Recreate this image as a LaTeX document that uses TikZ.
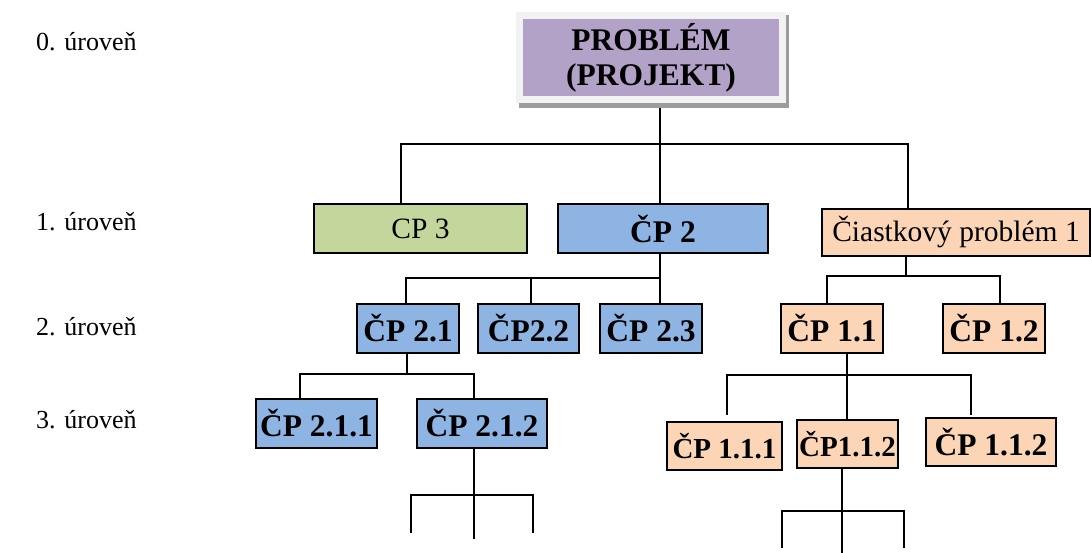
\documentclass[tikz,border=0pt]{standalone}
\usepackage{fontspec}
\setmainfont{Liberation Serif}
\usetikzlibrary{backgrounds}
\definecolor{rootfill}{HTML}{B3A2C7}
\definecolor{rootframe}{HTML}{F2F2F2}
\definecolor{rootshade}{HTML}{9C9C9C}
\definecolor{greenfill}{HTML}{C3D69B}
\definecolor{bluefill}{HTML}{8EB4E3}
\definecolor{peachfill}{HTML}{FBD5B5}
\tikzset{
  box/.style={draw=black, line width=1.4pt, inner sep=0pt, anchor=center},
  lbl/.style={font=\fontsize{26}{30}\selectfont, anchor=base west, inner sep=0pt},
  boldtxt/.style={font=\fontsize{31.5}{35}\selectfont\bfseries},
  smallbold/.style={font=\fontsize{29}{35}\selectfont\bfseries},
  plaintxt/.style={font=\fontsize{29.5}{32}\selectfont},
  wire/.style={line width=1.6pt, line cap=rect}
}
\begin{document}
\begin{tikzpicture}[x=1pt,y=-1pt]
\useasboundingbox (0,0) rectangle (1091,552);

% level captions
\node[lbl] (l0) at (36,50)  {0. úroveň};
\node[lbl] (l1) at (36,230) {1. úroveň};
\node[lbl] (l2) at (36,335) {2. úroveň};
\node[lbl] (l3) at (36,428) {3. úroveň};

% root
\node[box, draw=rootframe, line width=7pt, fill=rootfill, minimum width=263pt,
      minimum height=84pt, align=center, boldtxt] (root) at (651,57.5)
      {PROBLÉM\\(PROJEKT)};

% level 1
\node[box, fill=greenfill, minimum width=213pt, minimum height=49pt, plaintxt] (cp3) at (420.5,228.5) {CP 3};
\node[box, fill=bluefill, minimum width=210pt, minimum height=49pt, boldtxt] (cp2) at (663,228.5) {ČP 2};
\node[box, fill=peachfill, minimum width=268pt, minimum height=47pt, plaintxt] (cp1) at (956,232.5) {Čiastkový problém 1};

% level 2
\node[box, fill=bluefill, minimum width=102pt, minimum height=49pt, boldtxt] (cp21) at (408,328.5) {ČP 2.1};
\node[box, fill=bluefill, minimum width=101pt, minimum height=49pt, boldtxt] (cp22) at (528.5,328.5) {ČP2.2};
\node[box, fill=bluefill, minimum width=102pt, minimum height=49pt, boldtxt] (cp23) at (651,328.5) {ČP 2.3};
\node[box, fill=peachfill, minimum width=102pt, minimum height=49pt, boldtxt] (cp11) at (832,328.5) {ČP 1.1};
\node[box, fill=peachfill, minimum width=102pt, minimum height=49pt, boldtxt] (cp12) at (994,328.5) {ČP 1.2};

% level 3
\node[box, fill=bluefill, minimum width=121pt, minimum height=49pt, boldtxt] (cp211) at (316.5,423.5) {ČP 2.1.1};
\node[box, fill=bluefill, minimum width=130pt, minimum height=49pt, boldtxt] (cp212) at (482,423.5) {ČP 2.1.2};
\node[box, fill=peachfill, minimum width=115pt, minimum height=48pt, smallbold] (cp111) at (724.5,446) {ČP 1.1.1};
\node[box, fill=peachfill, minimum width=101pt, minimum height=48pt, smallbold] (cp112) at (847.5,444) {ČP1.1.2};
\node[box, fill=peachfill, minimum width=130pt, minimum height=48pt, boldtxt] (cp113) at (991,442) {ČP 1.1.2};

% bus junctions
\coordinate (j0l) at (401,144);
\coordinate (j0m) at (660,144);
\coordinate (j0r) at (908,144);
\coordinate (b2l) at (406,278);
\coordinate (b2c) at (531,278);
\coordinate (b2m) at (660,278);
\coordinate (b1l) at (827,276);
\coordinate (b1m) at (906,276);
\coordinate (b1r) at (1000,276);
\coordinate (b21l) at (300,374);
\coordinate (b21m) at (407,374);
\coordinate (b21r) at (474,374);
\coordinate (b212l) at (411,495);
\coordinate (b212m) at (474,495);
\coordinate (b212r) at (533,495);
\coordinate (e212l) at (411,532);
\coordinate (e212m) at (474,538);
\coordinate (e212r) at (533,532);
\coordinate (b11l) at (727,375);
\coordinate (b11m) at (847,375);
\coordinate (b11r) at (971,375);
\coordinate (e11l) at (727,414);
\coordinate (e11r) at (971,414);
\coordinate (b112l) at (782,511);
\coordinate (b112m) at (842,511);
\coordinate (b112r) at (904,511);
\coordinate (e112l) at (782,547);
\coordinate (e112m) at (842,552);
\coordinate (e112r) at (904,547);

\begin{pgfonlayer}{background}
  \fill[white] (0,0) rectangle (1091,552);
  % level 0 -> 1
  \draw[wire] (j0l) -- (j0r);
  \draw[wire] (root.south -| j0m) -- (cp2.north -| j0m);
  \draw[wire] (j0l) -- (cp3.north -| j0l);
  \draw[wire] (j0r) -- (cp1.north -| j0r);
  % CP 2 -> level 2
  \draw[wire] (cp2.south -| b2m) -- (b2m);
  \draw[wire] (b2l) -- (b2m);
  \draw[wire] (b2l) -- (cp21.north -| b2l);
  \draw[wire] (b2c) -- (cp22.north -| b2c);
  \draw[wire] (b2m) -- (cp23.north -| b2m);
  % CP 1 -> level 2
  \draw[wire] (cp1.south -| b1m) -- (b1m);
  \draw[wire] (b1l) -- (b1r);
  \draw[wire] (b1l) -- (cp11.north -| b1l);
  \draw[wire] (b1r) -- (cp12.north -| b1r);
  % CP 2.1 -> level 3
  \draw[wire] (cp21.south -| b21m) -- (b21m);
  \draw[wire] (b21l) -- (b21r);
  \draw[wire] (b21l) -- (cp211.north -| b21l);
  \draw[wire] (b21r) -- (cp212.north -| b21r);
  % below CP 2.1.2
  \draw[wire] (cp212.south -| b212m) -- (e212m);
  \draw[wire] (b212l) -- (b212r);
  \draw[wire] (b212l) -- (e212l);
  \draw[wire] (b212r) -- (e212r);
  % CP 1.1 -> level 3
  \draw[wire] (cp11.south -| b11m) -- (cp112.north -| b11m);
  \draw[wire] (b11l) -- (b11r);
  \draw[wire] (b11l) -- (e11l);
  \draw[wire] (b11r) -- (e11r);
  % below CP 1.1.2
  \draw[wire] (cp112.south -| b112m) -- (e112m);
  \draw[wire] (b112l) -- (b112r);
  \draw[wire] (b112l) -- (e112l);
  \draw[wire] (b112r) -- (e112r);
  % shadow of the root box
  \fill[rootshade] (519,15) rectangle (789,108);
\end{pgfonlayer}
\end{tikzpicture}
\end{document}
